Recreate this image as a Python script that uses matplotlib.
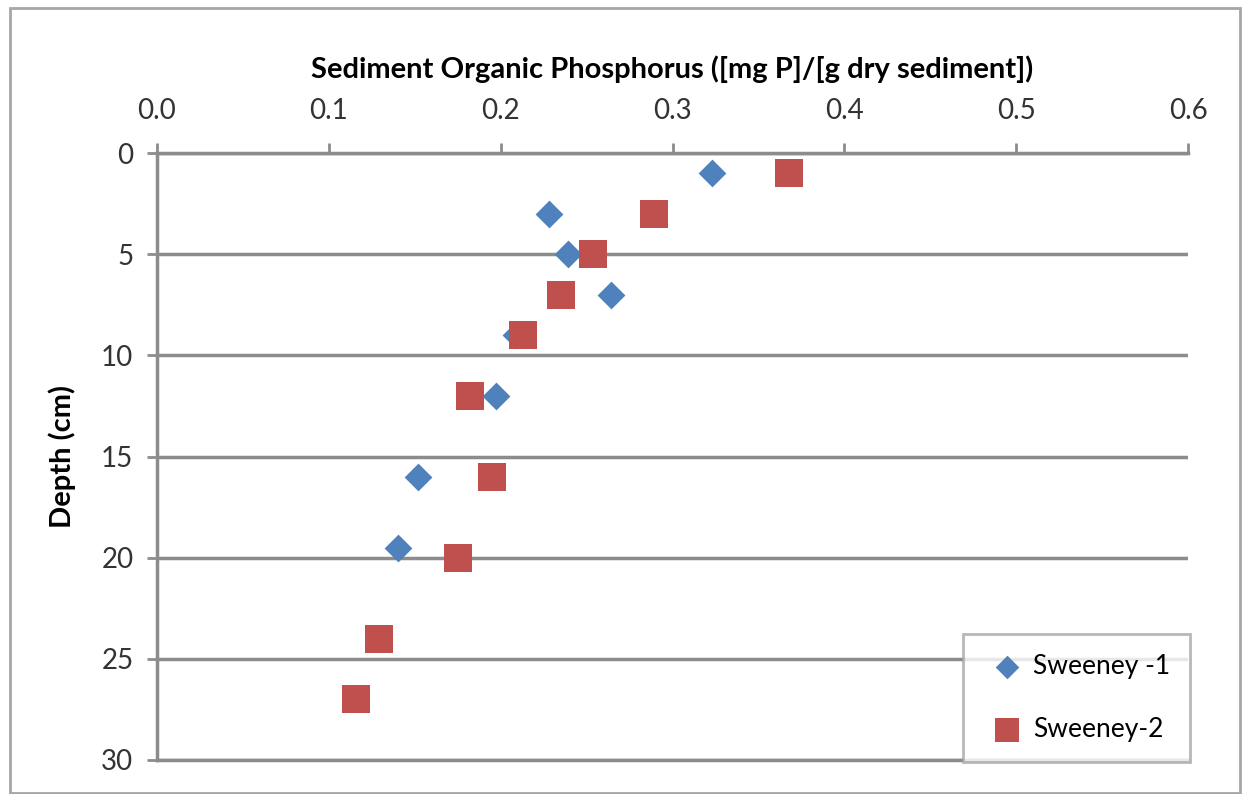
import matplotlib
matplotlib.use("Agg")
import matplotlib.pyplot as plt
from matplotlib.patches import Rectangle

plt.rcParams['font.family'] = ['Lato', 'DejaVu Sans']

# Sweeney-1
depth1 = [1, 3, 5, 7, 9, 12, 16, 19.5]
phos1 = [0.323, 0.228, 0.239, 0.264, 0.209, 0.197, 0.152, 0.140]

# Sweeney-2
depth2 = [1, 3, 5, 7, 9, 12, 16, 20, 24, 27]
phos2 = [0.368, 0.289, 0.254, 0.235, 0.213, 0.182, 0.195, 0.175, 0.129, 0.116]

xticks = [0.0, 0.1, 0.2, 0.3, 0.4, 0.5, 0.6]
yticks = [0, 5, 10, 15, 20, 25, 30]

axis_col = '#8c8c8c'

fig = plt.figure(figsize=(12.45, 7.94), dpi=100)
ax = fig.add_axes([157 / 1245, 1 - 760 / 794, (1188 - 157) / 1245, (760 - 153) / 794])

ax.scatter(phos1, depth1, marker='D', s=200, color='#4F81BD', label='Sweeney -1',
           zorder=3, linewidths=0)
ax.scatter(phos2, depth2, marker='s', s=420, color='#C0504D', label='Sweeney-2',
           zorder=4, linewidths=0)

ax.set_xlim(0, 0.6)
ax.set_ylim(30, 0)
ax.set_xticks(xticks)
ax.set_xticklabels(['%.1f' % v for v in xticks])
ax.set_yticks(yticks)
ax.xaxis.tick_top()
ax.xaxis.set_label_position('top')
ax.tick_params(axis='x', direction='out', length=7, width=2, color=axis_col,
               labelsize=20, pad=14, labelcolor='#333333')
ax.tick_params(axis='y', direction='out', length=7, width=2, color=axis_col,
               labelsize=20, pad=10, labelcolor='#333333')

for side in ['right', 'bottom']:
    ax.spines[side].set_visible(False)
for side in ['left', 'top']:
    ax.spines[side].set_color(axis_col)
    ax.spines[side].set_linewidth(2.5)

ax.yaxis.grid(True, color=axis_col, linewidth=2.5)
ax.set_axisbelow(True)
ax.axhline(30, color=axis_col, linewidth=2.5, clip_on=False, zorder=1)

ax.set_xlabel('Sediment Organic Phosphorus ([mg P]/[g dry sediment])', fontsize=21,
              fontweight='bold', labelpad=14)
ax.set_ylabel('Depth (cm)', fontsize=21, fontweight='bold', labelpad=18)

leg = ax.legend(loc='lower right', bbox_to_anchor=(1190 / 1245, 1 - 762 / 794),
                bbox_transform=fig.transFigure, fontsize=19, frameon=True,
                fancybox=False, borderpad=0.75, labelspacing=1.45, handletextpad=0.1,
                handlelength=1.8, borderaxespad=0, markerscale=0.85)
leg.get_frame().set_edgecolor('#a6a6a6')
leg.get_frame().set_linewidth(2)

fig.patches.append(Rectangle((10 / 1245, 1 / 794), 1230 / 1245, 785 / 794,
                             transform=fig.transFigure, fill=False,
                             edgecolor='#a6a6a6', linewidth=2))

fig.savefig('out.png', dpi=100)
